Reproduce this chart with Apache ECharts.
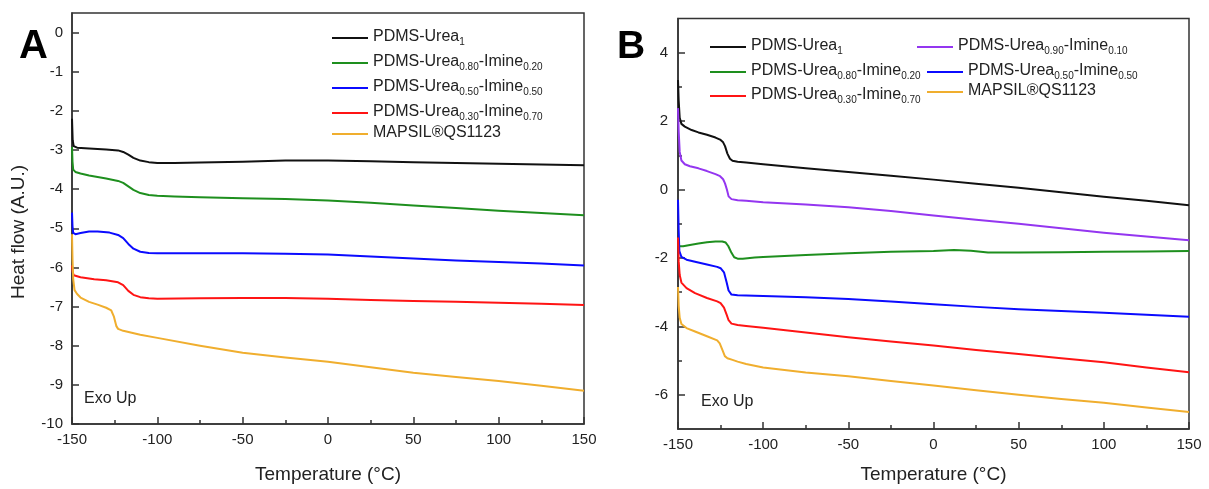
<!DOCTYPE html>
<html><head><meta charset="utf-8">
<script src="https://cdn.jsdelivr.net/npm/echarts@6/dist/echarts.min.js"></script>
<style>html,body{margin:0;padding:0;background:#fff}#c{width:1209px;height:489px}</style>
</head><body><div id="c"></div><script>
// ---- data (temperature °C, heat flow A.U.) ----
const NAME_U1 = 'PDMS-Urea1';
const NAME_U90 = 'PDMS-Urea0.90-Imine0.10';
const NAME_U80 = 'PDMS-Urea0.80-Imine0.20';
const NAME_U50 = 'PDMS-Urea0.50-Imine0.50';
const NAME_U30 = 'PDMS-Urea0.30-Imine0.70';
const NAME_MAP = 'MAPSIL®QS1123';

const xTicks = [-150, -100, -50, 0, 50, 100, 150];
const yTicksA = [-10, -9, -8, -7, -6, -5, -4, -3, -2, -1, 0];
const yTicksB = [-6, -4, -2, 0, 2, 4];
const yMinorTicksB = [-5, -3, -1, 1, 3];

const A_urea1 = [[-150,-2.2],[-149.6,-2.75],[-149,-2.9],[-147,-2.94],[-140,-2.96],[-130,-2.99],[-123,-3.01],[-120,-3.05],[-117,-3.12],[-114,-3.2],[-110,-3.27],[-105,-3.31],[-100,-3.33],[-90,-3.33],[-75,-3.32],[-50,-3.3],[-25,-3.27],[0,-3.27],[25,-3.29],[50,-3.31],[75,-3.33],[100,-3.35],[125,-3.37],[150,-3.39]];
const A_u80 = [[-150,-2.92],[-149.7,-3.3],[-149.3,-3.5],[-148,-3.56],[-145,-3.6],[-140,-3.65],[-130,-3.73],[-123,-3.79],[-120,-3.84],[-117,-3.93],[-114,-4.02],[-110,-4.1],[-105,-4.15],[-100,-4.17],[-90,-4.19],[-75,-4.21],[-50,-4.23],[-25,-4.25],[0,-4.29],[25,-4.35],[50,-4.42],[75,-4.48],[100,-4.55],[125,-4.61],[150,-4.67]];
const A_u50 = [[-150,-4.6],[-149.7,-4.95],[-149.3,-5.12],[-148,-5.15],[-145,-5.12],[-140,-5.08],[-135,-5.08],[-128,-5.11],[-123,-5.17],[-120,-5.25],[-117,-5.4],[-114,-5.52],[-110,-5.6],[-105,-5.63],[-100,-5.64],[-75,-5.64],[-50,-5.64],[-25,-5.65],[0,-5.67],[25,-5.72],[50,-5.77],[75,-5.82],[100,-5.86],[125,-5.9],[150,-5.95]];
const A_u30 = [[-150,-5.95],[-149.6,-6.12],[-149,-6.2],[-145,-6.25],[-137,-6.3],[-130,-6.33],[-123,-6.38],[-120,-6.45],[-117,-6.6],[-114,-6.7],[-110,-6.76],[-105,-6.79],[-100,-6.8],[-75,-6.79],[-50,-6.78],[-25,-6.78],[0,-6.8],[25,-6.83],[50,-6.86],[75,-6.88],[100,-6.9],[125,-6.93],[150,-6.96]];
const A_mapsil = [[-150,-5.15],[-149.7,-5.8],[-149.3,-6.3],[-148.5,-6.58],[-147,-6.68],[-145,-6.77],[-140,-6.88],[-135,-6.95],[-130,-7.03],[-127,-7.1],[-125.5,-7.25],[-124,-7.5],[-123,-7.57],[-120,-7.62],[-110,-7.72],[-100,-7.8],[-75,-8.0],[-50,-8.18],[-25,-8.3],[0,-8.41],[25,-8.55],[50,-8.69],[75,-8.8],[100,-8.9],[125,-9.02],[150,-9.15]];

const B_urea1 = [[-150,3.2],[-149.6,2.6],[-149,2.1],[-148,1.92],[-146,1.84],[-142,1.74],[-138,1.67],[-133,1.6],[-128,1.52],[-125.3,1.46],[-123.5,1.38],[-122.4,1.27],[-121,1.05],[-119.5,0.9],[-118,0.84],[-115,0.81],[-110,0.79],[-100,0.74],[-75,0.62],[-50,0.51],[-25,0.4],[0,0.29],[25,0.17],[50,0.05],[75,-0.08],[100,-0.21],[125,-0.33],[150,-0.46]];
const B_u90 = [[-150,2.38],[-149.6,1.7],[-149,1.1],[-148,0.85],[-146,0.74],[-143,0.68],[-138,0.62],[-133,0.54],[-128,0.45],[-125.3,0.39],[-123.5,0.3],[-122.4,0.18],[-121.3,0.0],[-120.3,-0.2],[-118.6,-0.28],[-115,-0.31],[-110,-0.33],[-100,-0.37],[-75,-0.44],[-50,-0.52],[-25,-0.63],[0,-0.76],[25,-0.88],[50,-1.0],[75,-1.13],[100,-1.26],[125,-1.37],[150,-1.48]];
const B_u80 = [[-150,-1.6],[-149.5,-1.66],[-147,-1.66],[-143,-1.62],[-138,-1.58],[-133,-1.54],[-128,-1.52],[-124,-1.52],[-122,-1.55],[-120.5,-1.65],[-118.6,-1.85],[-117,-1.98],[-115,-2.02],[-112,-2.02],[-105,-1.99],[-100,-1.97],[-75,-1.91],[-50,-1.86],[-25,-1.82],[0,-1.8],[12,-1.77],[22,-1.79],[32,-1.84],[50,-1.84],[75,-1.83],[100,-1.82],[125,-1.81],[150,-1.8]];
const B_u50 = [[-150,-0.3],[-149.6,-1.2],[-149.2,-1.8],[-148,-1.97],[-145,-2.05],[-140,-2.11],[-133,-2.19],[-127,-2.26],[-125,-2.3],[-123,-2.42],[-121.5,-2.7],[-120.3,-2.95],[-118.6,-3.07],[-115,-3.09],[-110,-3.1],[-100,-3.11],[-75,-3.15],[-50,-3.2],[-25,-3.27],[0,-3.35],[25,-3.43],[50,-3.5],[75,-3.55],[100,-3.6],[125,-3.66],[150,-3.72]];
const B_u30 = [[-150,-1.4],[-149.6,-2.1],[-149,-2.5],[-148,-2.72],[-145,-2.88],[-140,-3.03],[-133,-3.17],[-127,-3.27],[-125,-3.32],[-123,-3.45],[-121.5,-3.65],[-120.3,-3.82],[-118.6,-3.92],[-115,-3.96],[-110,-3.99],[-100,-4.04],[-75,-4.18],[-50,-4.32],[-25,-4.44],[0,-4.56],[25,-4.69],[50,-4.81],[75,-4.93],[100,-5.05],[125,-5.2],[150,-5.34]];
const B_mapsil = [[-150,-2.85],[-149.6,-3.4],[-149,-3.75],[-148,-3.93],[-145,-4.05],[-140,-4.15],[-133,-4.29],[-127,-4.41],[-125.5,-4.5],[-124,-4.68],[-122.5,-4.87],[-121,-4.93],[-118,-4.98],[-115,-5.03],[-110,-5.1],[-100,-5.2],[-75,-5.35],[-50,-5.46],[-25,-5.6],[0,-5.73],[25,-5.87],[50,-6.0],[75,-6.12],[100,-6.23],[125,-6.37],[150,-6.5]];

// ---- styling ----
const FONT = 'Liberation Sans, Arial, sans-serif';
const COLORS = {};
COLORS[NAME_U1] = '#111111';
COLORS[NAME_U90] = '#9436f0';
COLORS[NAME_U80] = '#1e8f1e';
COLORS[NAME_U50] = '#0b0bff';
COLORS[NAME_U30] = '#ff1414';
COLORS[NAME_MAP] = '#f0ae2e';

function mkSeries(name, data, idx, yIdx) {
  return {
    type: 'line', name: name, data: data, xAxisIndex: idx, yAxisIndex: yIdx,
    symbol: 'none', showSymbol: false, smooth: false, clip: true,
    lineStyle: { color: COLORS[name], width: 2, join: 'round' }, itemStyle: { color: COLORS[name] },
    silent: true, z: 3
  };
}

function richName(name) {
  if (name.indexOf('PDMS') !== 0) return '{m|' + name + '}';
  const m = name.match(/^PDMS-Urea([\d.]+)(?:-Imine([\d.]+))?$/);
  let s = '{m|PDMS-Urea}{s|' + m[1] + '}';
  if (m[2]) s += '{m|-Imine}{s|' + m[2] + '}';
  return s;
}

const legendRich = {
  m: { fontSize: 16, lineHeight: 18, verticalAlign: 'top', color: '#222', fontFamily: FONT },
  s: { fontSize: 10, lineHeight: 10, verticalAlign: 'bottom', padding: [12, 0, 0, 0], color: '#222', fontFamily: FONT }
};

function mkLegend(name, left, centerY) {
  return {
    data: [{ name: name, icon: 'rect' }], left: left, top: centerY - 9, padding: 0, orient: 'vertical',
    itemWidth: 36, itemHeight: 2, selectedMode: false,
    formatter: richName,
    textStyle: { rich: legendRich, fontFamily: FONT }
  };
}

const legends = [
  mkLegend(NAME_U1, 332, 34),
  mkLegend(NAME_U80, 332, 59),
  mkLegend(NAME_U50, 332, 84),
  mkLegend(NAME_U30, 332, 109),
  mkLegend(NAME_MAP, 332, 134),
  mkLegend(NAME_U1, 710, 43),
  mkLegend(NAME_U80, 710, 68),
  mkLegend(NAME_U30, 710, 92),
  mkLegend(NAME_U90, 917, 43),
  mkLegend(NAME_U50, 927, 68),
  mkLegend(NAME_MAP, 927, 92)
];

const axisLineStyle = { show: true, onZero: false, lineStyle: { color: '#333', width: 1.5 } };
const labelStyle = { color: '#222', fontSize: 15, fontFamily: FONT };

function mkX(gridIndex, nameGap) {
  return {
    type: 'value', gridIndex: gridIndex, min: -150, max: 150, interval: 50,
    axisLine: axisLineStyle,
    axisTick: { show: true, inside: true, length: 7, lineStyle: { color: '#333', width: 1.5 } },
    minorTick: { show: true, splitNumber: 2, length: 4, lineStyle: { color: '#333', width: 1.5 } },
    axisLabel: Object.assign({ margin: 8, customValues: xTicks }, labelStyle),
    splitLine: { show: false }, minorSplitLine: { show: false },
    name: 'Temperature (°C)', nameLocation: 'middle', nameGap: nameGap,
    nameTextStyle: { fontSize: 19, color: '#222', fontFamily: FONT }
  };
}

const option = {
  animation: false,
  backgroundColor: '#fff',
  grid: [
    { left: 72, top: 13, width: 512, height: 413, show: true, borderColor: '#333', borderWidth: 1.5, backgroundColor: 'transparent' },
    { left: 678, top: 18.5, width: 511, height: 412, show: true, borderColor: '#333', borderWidth: 1.5, backgroundColor: 'transparent' }
  ],
  xAxis: [mkX(0, 41), mkX(1, 36)],
  yAxis: [
    {
      type: 'value', gridIndex: 0, min: -10, max: 0.5, interval: 1,
      axisLine: axisLineStyle,
      axisTick: { show: true, inside: true, length: 7, customValues: yTicksA, lineStyle: { color: '#333', width: 1.5 } },
      axisLabel: Object.assign({ margin: 9, customValues: yTicksA }, labelStyle),
      splitLine: { show: false }
    },
    {
      type: 'value', gridIndex: 1, min: -7, max: 5, interval: 1, position: 'left',
      axisLine: axisLineStyle,
      axisTick: { show: true, inside: true, length: 7, customValues: yTicksB, lineStyle: { color: '#333', width: 1.5 } },
      axisLabel: Object.assign({ margin: 10, customValues: yTicksB }, labelStyle),
      splitLine: { show: false }
    },
    {
      type: 'value', gridIndex: 1, min: -7, max: 5, interval: 1, position: 'left', offset: 0,
      axisLine: { show: false, onZero: false },
      axisTick: { show: true, inside: true, length: 4, customValues: yMinorTicksB, lineStyle: { color: '#333', width: 1.5 } },
      axisLabel: { show: false },
      splitLine: { show: false }
    }
  ],
  legend: legends,
  series: [
    mkSeries(NAME_U1, A_urea1, 0, 0),
    mkSeries(NAME_U80, A_u80, 0, 0),
    mkSeries(NAME_U50, A_u50, 0, 0),
    mkSeries(NAME_U30, A_u30, 0, 0),
    mkSeries(NAME_MAP, A_mapsil, 0, 0),
    mkSeries(NAME_U1, B_urea1, 1, 1),
    mkSeries(NAME_U90, B_u90, 1, 1),
    mkSeries(NAME_U80, B_u80, 1, 1),
    mkSeries(NAME_U50, B_u50, 1, 1),
    mkSeries(NAME_U30, B_u30, 1, 1),
    mkSeries(NAME_MAP, B_mapsil, 1, 1)
  ],
  graphic: [
    { type: 'text', left: 19, top: 27, style: { text: 'A', font: 'bold 40px ' + FONT, fill: '#000' } },
    { type: 'text', left: 617, top: 28, style: { text: 'B', font: 'bold 39px ' + FONT, fill: '#000' } },
    { type: 'text', left: 84, top: 391, style: { text: 'Exo Up', font: '16px ' + FONT, fill: '#222' } },
    { type: 'text', left: 701, top: 394, style: { text: 'Exo Up', font: '16px ' + FONT, fill: '#222' } },
    { type: 'text', x: 19, y: 232, rotation: Math.PI / 2,
      style: { text: 'Heat flow (A.U.)', font: '19px ' + FONT, fill: '#222', align: 'center', verticalAlign: 'middle' } }
  ]
};

const chart = echarts.init(document.getElementById('c'), null, { renderer: 'canvas' });
chart.setOption(option);
</script></body></html>
